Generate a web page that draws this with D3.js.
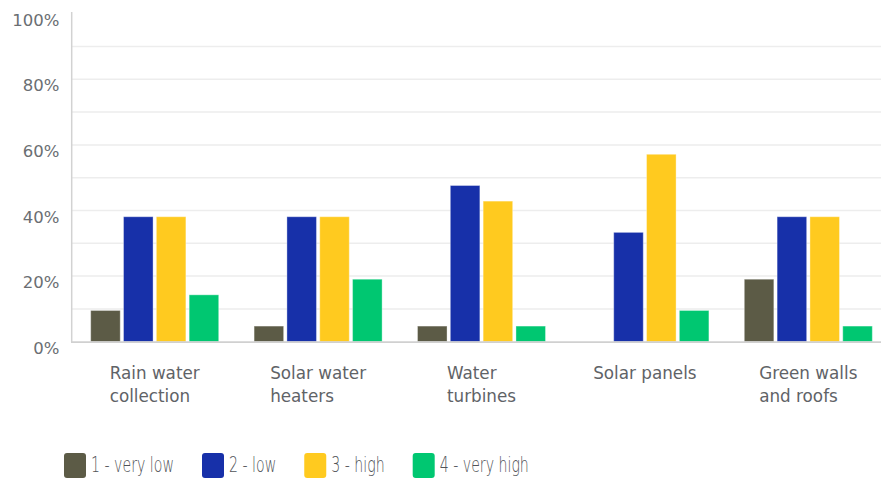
<!DOCTYPE html>
<html>
<head>
<meta charset="utf-8">
<script src="https://cdn.jsdelivr.net/npm/d3@7"></script>
<style>
  body { margin: 0; background: #fff; }
  text { font-family: "DejaVu Sans", sans-serif; }
</style>
</head>
<body>
<div id="chart"></div>
<script>
// data (share of 21 respondents, in %)
var categories = ["Rain water\ncollection", "Solar water\nheaters", "Water\nturbines", "Solar panels", "Green walls\nand roofs"];
var series = ["1 - very low", "2 - low", "3 - high", "4 - very high"];
var veryLow  = [9.52, 4.76, 4.76, 0, 19.05];
var low      = [38.10, 38.10, 47.62, 33.33, 38.10];
var high     = [38.10, 38.10, 42.86, 57.14, 38.10];
var veryHigh = [14.29, 19.05, 4.76, 9.52, 4.76];
var yTicks = [0, 20, 40, 60, 80, 100];
var colors = ["#5c5b46", "#1730a9", "#ffca1f", "#00c771"];

var values = [veryLow, low, high, veryHigh];
var width = 881, height = 480;

var svg = d3.select("#chart")
  .append("svg")
    .attr("width", width)
    .attr("height", height);

// scales
var x0 = d3.scaleBand()
  .domain(categories)
  .range([73, 890])
  .paddingInner(0.2166)
  .paddingOuter(0.1083);

var x1 = d3.scaleBand()
  .domain(series)
  .range([0, x0.bandwidth()])
  .paddingInner(0.1);

var y = d3.scaleLinear()
  .domain([0, 100])
  .range([341.7, 13.7]);

// gridlines every 10%
svg.append("g")
  .selectAll("line")
  .data(d3.range(10, 100, 10))
  .enter()
  .append("line")
    .attr("x1", 72)
    .attr("x2", width)
    .attr("y1", d => y(d))
    .attr("y2", d => y(d))
    .attr("stroke", "#ededed")
    .attr("stroke-width", 1.5);

// y labels (sit a bit below their gridline)
svg.append("g")
  .selectAll("text")
  .data(yTicks)
  .enter()
  .append("text")
    .attr("x", 59.5)
    .attr("y", d => y(d) + 7.5)
    .attr("text-anchor", "end")
    .attr("dominant-baseline", "middle")
    .attr("font-size", "16.5px")
    .attr("fill", "#6a6e72")
    .text(d => d + "%");

// bars
var rows = [];
categories.forEach(function(c, i) {
  series.forEach(function(s, j) {
    rows.push({cat: c, ser: s, idx: j, value: values[j][i]});
  });
});

svg.append("g")
  .selectAll("rect")
  .data(rows.filter(d => d.value > 0))
  .enter()
  .append("rect")
    .attr("x", d => x0(d.cat) + x1(d.ser))
    .attr("y", d => y(d.value))
    .attr("width", x1.bandwidth())
    .attr("height", d => y(0) - y(d.value))
    .attr("fill", d => colors[d.idx])
    .attr("stroke", "#ffffff")
    .attr("stroke-opacity", 0.35)
    .attr("stroke-width", 1);

// axis lines
svg.append("line")
  .attr("x1", 71.7).attr("x2", 71.7)
  .attr("y1", 12).attr("y2", 342.5)
  .attr("stroke", "#d2d2d2").attr("stroke-width", 1.5);

svg.append("line")
  .attr("x1", 71).attr("x2", width)
  .attr("y1", 342.2).attr("y2", 342.2)
  .attr("stroke", "#d0d0d0").attr("stroke-width", 1.8);

// category labels: block centered, lines left aligned
var catLabels = svg.append("g")
  .selectAll("text")
  .data(categories)
  .enter()
  .append("text")
    .attr("font-size", "16.8px")
    .attr("fill", "#5f6367");

catLabels.each(function(d) {
  var t = d3.select(this);
  d.split("\n").forEach(function(line, k) {
    t.append("tspan")
      .attr("y", 379 + k * 22.5)
      .text(line);
  });
  var maxW = 0;
  t.selectAll("tspan").each(function() { maxW = Math.max(maxW, this.getComputedTextLength()); });
  var left = x0(d) + x0.bandwidth() / 2 - maxW / 2;
  t.selectAll("tspan").attr("x", left);
});

// legend (narrow type: squeeze the text horizontally)
var legend = svg.append("g");
var lx = 64;
var squeeze = null;
series.forEach(function(s, j) {
  legend.append("rect")
    .attr("x", lx)
    .attr("y", 453)
    .attr("width", 22)
    .attr("height", 25)
    .attr("rx", 3)
    .attr("fill", colors[j]);
  var g = legend.append("g");
  var t = g.append("text")
    .attr("dominant-baseline", "middle")
    .attr("font-family", "Roboto, sans-serif")
    .attr("font-weight", 300)
    .attr("font-size", "21px")
    .attr("fill", "#4f5357")
    .text(s);
  var w = t.node().getComputedTextLength();
  if (squeeze === null) squeeze = 83 / w;
  g.attr("transform", "translate(" + (lx + 27) + ",466.5) scale(" + squeeze + ",1)");
  lx += 27 + w * squeeze + 28;
});
</script>
</body>
</html>
